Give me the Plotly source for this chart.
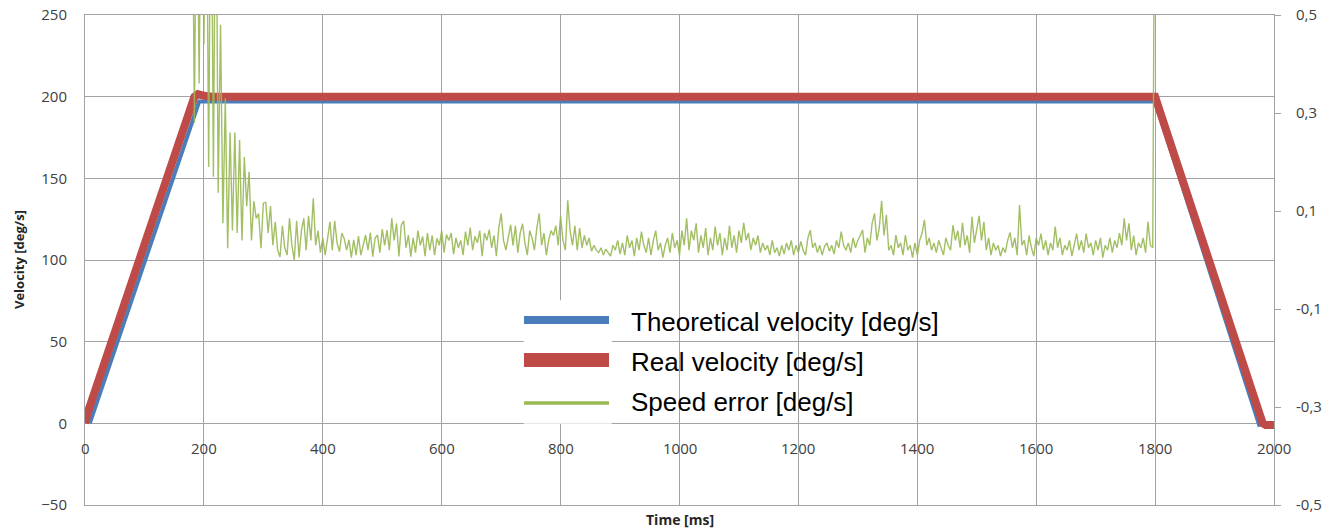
import plotly.graph_objects as go

# Velocity profiles: breakpoints (time in ms, velocity in deg/s)
theo_t = [8, 192, 1800, 1976]
theo_v = [0, 197, 197, -2]

real_t = [0, 4, 184, 190, 200, 215, 1800, 1981, 1986, 2000]
real_v = [0, 6, 200, 201.5, 200.5, 200, 200, 0, -1, -1]

# Speed error samples (thousandths of deg/s), sampled every 4 ms from 180 ms
err_t0 = 180
err_dt = 4
err_milli = [
    900, 280, 900, 360, 900, 440, 900, 190, 900, 170, 900, 137, 480, 75, 330, 24, 260, 60, 260, 55, 245, 40, 210, 110, 180,
    40, 120, 85, 95, 24, 116, 118, 55, 110, 30, 78, 20, 6, 70, 25, 10, 85, 30, 0, 80, 5, 60, 85, 20, 90,
    40, 126, 30, 60, 15, 45, 10, 40, 78, 20, 80, 35, 17, 55, 44, 20, 41, 5, 41, 10, 49, 10, 34, 51, 20,
    56, 7, 45, 51, 15, 63, 30, 61, 20, 85, 40, 75, 7, 71, 80, 25, 51, 7, 45, 15, 60, 30, 48, 8, 55,
    20, 50, 10, 44, 30, 60, 15, 52, 40, 55, 12, 45, 25, 40, 10, 58, 30, 66, 20, 48, 35, 60, 8, 55, 40,
    62, 25, 50, 8, 65, 95, 40, 20, 50, 72, 30, 70, 15, 55, 74, 35, 10, 60, 45, 20, 65, 95, 30, 55, 10,
    40, 60, 50, 70, 30, 90, 40, 20, 122, 60, 30, 70, 20, 65, 25, 50, 30, 45, 18, 30, 20, 15, 25, 10, 22,
    15, 8, 30, 20, 40, 12, 35, 10, 50, 25, 40, 8, 45, 20, 58, 30, 15, 45, 10, 40, 60, 20, 35, 5, 30,
    45, 15, 55, 25, 40, 10, 60, 30, 85, 20, 60, 40, 75, 15, 50, 25, 65, 10, 45, 20, 68, 30, 55, 10, 45,
    20, 70, 25, 50, 15, 60, 35, 76, 40, 55, 20, 45, 30, 50, 15, 35, 20, 30, 10, 40, 15, 25, 8, 30, 12,
    35, 20, 40, 10, 30, 15, 38, 20, 10, 45, 61, 25, 35, 15, 30, 10, 28, 35, 18, 30, 12, 40, 25, 58, 30,
    20, 35, 15, 45, 25, 40, 50, 61, 15, 45, 30, 75, 95, 40, 65, 121, 50, 92, 20, 30, 10, 51, 25, 35, 10,
    51, 20, 30, 5, 35, 10, 40, 55, 82, 30, 45, 20, 35, 15, 40, 25, 10, 45, 30, 20, 71, 40, 60, 25, 76,
    30, 50, 15, 88, 35, 60, 90, 40, 78, 20, 45, 10, 35, 20, 30, 8, 25, 15, 40, 56, 25, 45, 10, 112, 30,
    40, 10, 50, 25, 8, 45, 30, 54, 20, 40, 10, 35, 20, 68, 25, 45, 10, 30, 20, 40, 8, 35, 54, 20, 40,
    15, 54, 25, 35, 10, 40, 20, 45, 5, 30, 20, 45, 15, 40, 25, 55, 30, 85, 40, 75, 20, 50, 10, 35, 25,
    45, 15, 78, 30, 25, 1000,
]
err_t = [err_t0 + err_dt * i for i in range(len(err_milli))]
err_v = [m / 1000 for m in err_milli]

x_ticks = [0, 200, 400, 600, 800, 1000, 1200, 1400, 1600, 1800, 2000]
y_ticks = [-50, 0, 50, 100, 150, 200, 250]
y2_ticks = [-0.5, -0.3, -0.1, 0.1, 0.3, 0.5]
y2_labels = ["-0,5", "-0,3", "-0,1", "0,1", "0,3", "0,5"]

series_names = ["Theoretical velocity [deg/s]", "Real velocity [deg/s]", "Speed error [deg/s]"]
series_colors = ["#4A7EBB", "#BE4B48", "#98B954"]

GRID = "#a3a3a3"
TICK_FONT = dict(family="Open Sans", size=15, color="#404040")

fig = go.Figure()
fig.add_trace(go.Scatter(x=theo_t, y=theo_v, mode="lines",
                         line=dict(color=series_colors[0], width=4), name=series_names[0]))
fig.add_trace(go.Scatter(x=real_t, y=real_v, mode="lines",
                         line=dict(color=series_colors[1], width=8), name=series_names[1]))
fig.add_trace(go.Scatter(x=err_t, y=err_v, mode="lines", yaxis="y2",
                         line=dict(color=series_colors[2], width=1.4), opacity=0.9,
                         name=series_names[2]))

fig.update_layout(
    width=1322, height=530,
    margin=dict(l=85, r=48, t=15, b=25),
    paper_bgcolor="white", plot_bgcolor="white",
    showlegend=False,
    xaxis=dict(range=[0, 2000], tickvals=x_ticks, showticklabels=False, automargin=False,
               showgrid=True, gridcolor=GRID, gridwidth=1, zeroline=False,
               showline=True, mirror=True, linecolor=GRID, linewidth=1, ticks=""),
    yaxis=dict(range=[-50, 250], tickvals=y_ticks, showgrid=True, gridcolor=GRID,
               gridwidth=1, zeroline=False, showline=True, mirror=True, automargin=False,
               linecolor=GRID, linewidth=1, ticks="", tickfont=TICK_FONT,
               ticklabelstandoff=14),
    yaxis2=dict(range=[-0.5, 0.5], overlaying="y", side="right", tickvals=y2_ticks,
                ticktext=y2_labels, showgrid=False, zeroline=False, showline=False,
                automargin=False, ticks="outside", ticklen=6, tickcolor=GRID,
                tickfont=TICK_FONT, ticklabelstandoff=12),
)

# X tick labels sit along the zero line of the velocity axis
for t in x_ticks:
    fig.add_annotation(x=t, y=0, xref="x", yref="y", text=str(t), showarrow=False,
                       yanchor="top", yshift=-13, font=TICK_FONT)

# Axis titles
fig.add_annotation(x=0.5, y=-0.03, xref="paper", yref="paper", text="<b>Time [ms]</b>",
                   showarrow=False, xanchor="center", yanchor="middle",
                   font=dict(family="Open Sans", size=14, color="#262626"))
fig.add_annotation(x=-0.0555, y=0.5, xref="paper", yref="paper", text="<b>Velocity [deg/s]</b>",
                   showarrow=False, textangle=-90, xanchor="center", yanchor="middle",
                   font=dict(family="Open Sans", size=13, color="#262626"))

# Legend drawn inside the plot area
fig.add_shape(type="rect", xref="paper", yref="paper", x0=0.369, x1=0.443, y0=0.166, y1=0.418,
              fillcolor="white", line=dict(width=0), layer="above")
legend_y = [0.3776, 0.2959, 0.2082]
legend_w = [8, 14, 3.5]
text_y = [0.3735, 0.2918, 0.2102]
for name, color, ly, lw, ty in zip(series_names, series_colors, legend_y, legend_w, text_y):
    fig.add_shape(type="line", xref="paper", yref="paper", x0=0.3692, x1=0.4407, y0=ly, y1=ly,
                  line=dict(color=color, width=lw), layer="above")
    fig.add_annotation(x=0.4575, y=ty, xref="paper", yref="paper", text=name, showarrow=False,
                       xanchor="left", yanchor="middle",
                       font=dict(family="Liberation Sans", size=26, color="#000000"))

fig.write_html("out.html")
